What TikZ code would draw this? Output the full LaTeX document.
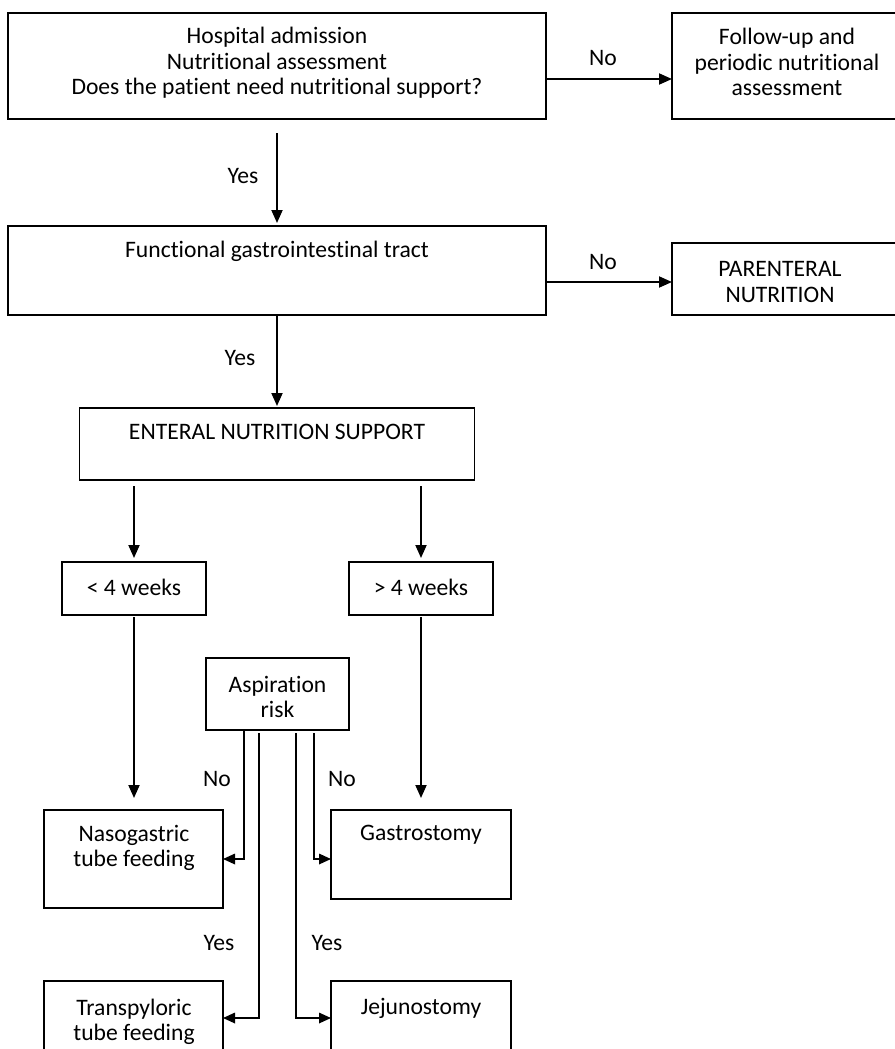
\documentclass[tikz,border=0pt]{standalone}
\usepackage{fontspec}
\setmainfont[RawFeature=-liga, RawFeature=-dlig, RawFeature=-clig]{Carlito}
\usetikzlibrary{arrows.meta}
\begin{document}
\begin{tikzpicture}[x=1bp,y=-1bp,
  box/.style={draw, line width=1.3bp, fill=white, inner sep=0pt, outer sep=0pt},
  txt/.style={inner sep=0pt, align=center, font=\fontsize{23.7}{25.5}\selectfont},
  arr/.style={line width=1.9bp, -{Triangle[length=13bp,width=11bp]}},
  stub/.style={line width=1.7bp, line cap=rect, -{Triangle[length=12bp,width=10.5bp]}},
  vline/.style={line width=1.2bp}]
\useasboundingbox (0,0) rectangle (895,1049);
\clip (0,0) rectangle (895,1049);
\fill[white] (0,0) rectangle (895,1049);
% boxes
\node[box, minimum width=538bp, minimum height=106bp] (b1) at (277,66) {};
\node[box, minimum width=233bp, minimum height=106bp] (b2) at (788.5,66) {};
\node[box, minimum width=538bp, minimum height=89bp] (b3) at (277,270.5) {};
\node[box, minimum width=233bp, minimum height=72bp] (b4) at (788.5,279) {};
\node[box, minimum width=395bp, minimum height=72bp] (b5) at (277,444) {};
\node[box, minimum width=144bp, minimum height=53bp] (b6) at (134,588.5) {};
\node[box, minimum width=144bp, minimum height=53bp] (b7) at (421,588.5) {};
\node[box, minimum width=143bp, minimum height=72bp] (b8) at (277.5,694) {};
\node[box, minimum width=179bp, minimum height=98bp] (b9) at (133.5,859) {};
\node[box, minimum width=180bp, minimum height=89bp] (b10) at (421,854.5) {};
\node[box, minimum width=179bp, minimum height=89bp] (b11) at (133.5,1025.5) {};
\node[box, minimum width=180bp, minimum height=89bp] (b12) at (421,1025.5) {};
% texts
\node[txt] (t1) at (277,63) {Hospital admission\\Nutritional assessment\\Does the patient need nutritional support?};
\node[txt] (t2) at (787,62) {Follow-up and\\periodic nutritional\\assessment};
\node[txt] (t3) at (277,251) {Functional gastrointestinal tract};
\node[txt] (t4) at (780,282) {PARENTERAL\\NUTRITION};
\node[txt] (t5) at (277,432) {ENTERAL NUTRITION SUPPORT};
\node[txt] (t6) at (134,587) {< 4 weeks};
\node[txt] (t7) at (421,587) {> 4 weeks};
\node[txt] (t8) at (277.5,697) {Aspiration\\risk};
\node[txt] (t9) at (134,848) {Nasogastric\\tube feeding};
\node[txt] (t10) at (421,835) {Gastrostomy};
\node[txt] (t11) at (134,1022) {Transpyloric\\tube feeding};
\node[txt] (t12) at (421,1008) {Jejunostomy};
% labels
\node[txt] (n1) at (603,58) {No};
\node[txt] (n2) at (603,262) {No};
\node[txt] (y1) at (243,176) {Yes};
\node[txt] (y2) at (240,358) {Yes};
\node[txt] (n3) at (217,779) {No};
\node[txt] (n4) at (342,779) {No};
\node[txt] (y3) at (219,943) {Yes};
\node[txt] (y4) at (327,943) {Yes};
% helper coordinates
\coordinate (p1) at (0,79);
\coordinate (p2) at (0,282);
\coordinate (x1) at (244,0);
\coordinate (x2) at (259,0);
\coordinate (x3) at (296,0);
\coordinate (x4) at (314,0);
\coordinate (q1) at (0,859);
\coordinate (q2) at (0,1018);
\path (b8.south) ++(0,3) coordinate (bs);
% connectors
\draw[arr] (b1.east |- p1) -- (b2.west |- p1);
\draw[arr] (b3.east |- p2) -- (b4.west |- p2);
\draw[arr, shorten <=14bp, shorten >=3bp] (b1.south) -- (b3.north);
\draw[arr, shorten >=2bp] (b3.south) -- (b5.north);
\draw[arr, shorten <=6bp, shorten >=4bp] (b5.south -| b6.north) -- (b6.north);
\draw[arr, shorten <=6bp, shorten >=4bp] (b5.south -| b7.north) -- (b7.north);
\draw[arr, shorten <=2bp, shorten >=12bp] (b6.south) -- (b6.south |- b9.north);
\draw[arr, shorten <=2bp, shorten >=12bp] (b7.south) -- (b7.south |- b10.north);
% aspiration risk branches
\coordinate (c1) at (x1 |- q1);
\coordinate (c2) at (x2 |- q2);
\coordinate (c3) at (x3 |- q2);
\coordinate (c4) at (x4 |- q1);
\draw[vline] (b8.south -| x1) -- (c1);
\draw[stub] (c1) -- (b9.east |- q1);
\draw[vline] (bs -| x2) -- (c2);
\draw[stub] (c2) -- (b11.east |- q2);
\draw[vline] (bs -| x3) -- (c3);
\draw[stub] (c3) -- (b12.west |- q2);
\draw[vline] (bs -| x4) -- (c4);
\draw[stub] (c4) -- (b10.west |- q1);
\end{tikzpicture}
\end{document}
